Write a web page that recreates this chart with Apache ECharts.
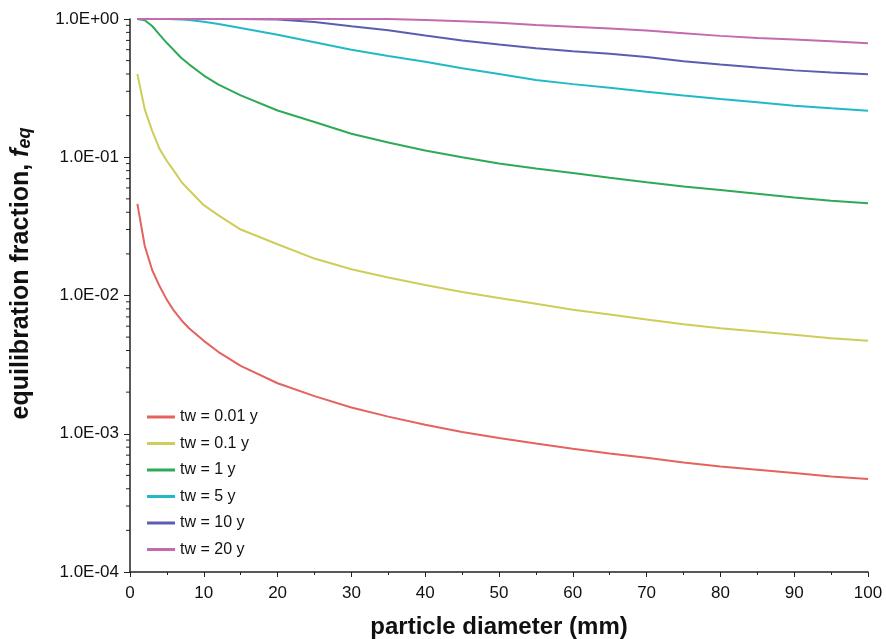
<!DOCTYPE html>
<html>
<head>
<meta charset="utf-8">
<script src="https://cdn.jsdelivr.net/npm/echarts@6/dist/echarts.min.js"></script>
<style>html,body{margin:0;padding:0;background:#fff;}#c{width:886px;height:639px;}</style>
</head>
<body>
<div id="c"></div>
<script>
// particle diameter (mm)
var diam = [1,2,3,4,5,6,7,8,10,12,15,20,25,30,35,40,45,50,55,60,65,70,75,80,85,90,95,100];
var tw001 = [0.046,0.0228,0.0153,0.0117,0.0093,0.0077,0.0066,0.0058,0.0047,0.0039,0.0031,0.00232,0.00187,0.00155,0.00133,0.00116,0.00103,0.00093,0.00085,0.00078,0.00072,0.00067,0.00062,0.00058,0.00055,0.00052,0.00049,0.00047];
var tw01 = [0.40,0.222,0.155,0.115,0.094,0.079,0.066,0.058,0.045,0.038,0.030,0.0235,0.0185,0.0155,0.0135,0.0119,0.0106,0.0096,0.0087,0.0079,0.0073,0.0067,0.0062,0.0058,0.0055,0.0052,0.0049,0.0047];
var tw1 = [1.0,0.98,0.89,0.77,0.67,0.59,0.52,0.47,0.39,0.335,0.28,0.218,0.18,0.148,0.128,0.112,0.1,0.09,0.083,0.077,0.071,0.066,0.0615,0.058,0.0545,0.0512,0.0485,0.0464];
var tw5 = [1,1,1,1,0.998,0.995,0.99,0.983,0.955,0.92,0.86,0.77,0.68,0.60,0.54,0.49,0.44,0.40,0.362,0.338,0.318,0.298,0.28,0.264,0.25,0.236,0.226,0.217];
var tw10 = [1,1,1,1,1,1,1,1,1,1,1,0.99,0.95,0.885,0.83,0.76,0.70,0.655,0.615,0.585,0.56,0.53,0.495,0.468,0.445,0.425,0.41,0.399];
var tw20 = [1,1,1,1,1,1,1,1,1,1,1,1,1,1,1,0.985,0.965,0.94,0.905,0.88,0.855,0.825,0.79,0.755,0.73,0.71,0.69,0.667];

var seriesNames = ['tw = 0.01 y','tw = 0.1 y','tw = 1 y','tw = 5 y','tw = 10 y','tw = 20 y'];
var seriesVals = [tw001, tw01, tw1, tw5, tw10, tw20];
var colors = ['#e5625f','#cfcd5a','#2eaa57','#22b9c6','#5b5eb0','#c46bb0'];

// y minor tick values (2..9 x 10^k)
var yMinor = [];
for (var k = -4; k < 0; k++) { for (var m = 2; m <= 9; m++) { yMinor.push([0, m * Math.pow(10, k)]); } }

var FONT = 'Liberation Sans, Arial, sans-serif';
var series = seriesNames.map(function (n, i) {
  return {
    name: n, type: 'line', symbol: 'none', smooth: false,
    data: diam.map(function (d, j) { return [d, seriesVals[i][j]]; }),
    lineStyle: { color: colors[i], width: 2 }, itemStyle: { color: colors[i] }
  };
});
series.push({
  type: 'custom', name: 'minor', silent: true, clip: false, z: 5,
  data: yMinor,
  renderItem: function (params, api) {
    var p = api.coord([0, api.value(1)]);
    return { type: 'line', shape: { x1: p[0] - 4, y1: p[1], x2: p[0], y2: p[1] }, style: { stroke: '#222', lineWidth: 1 } };
  }
});

var chart = echarts.init(document.getElementById('c'), null, { renderer: 'canvas' });
chart.setOption({
  animation: false,
  color: colors,
  textStyle: { fontFamily: FONT },
  grid: { left: 130, right: 18, top: 19, bottom: 67, containLabel: false, outerBoundsMode: 'none' },
  legend: {
    data: seriesNames.map(function (n) { return { name: n, icon: 'rect' }; }),
    orient: 'vertical', left: 142, top: 404,
    itemWidth: 28, itemHeight: 3, itemGap: 10.5,
    textStyle: { fontSize: 16, lineHeight: 16, color: '#111', fontFamily: FONT }
  },
  xAxis: {
    type: 'value', min: 0, max: 100, interval: 10,
    name: 'particle diameter (mm)', nameLocation: 'middle', nameGap: 43,
    nameTextStyle: { fontSize: 24, fontWeight: 'bold', color: '#111', fontFamily: FONT },
    axisLine: { onZero: false, lineStyle: { color: '#222', width: 1.5 } },
    axisTick: { length: 5, lineStyle: { color: '#222' } },
    minorTick: { show: true, splitNumber: 2, length: 3, lineStyle: { color: '#222' } },
    axisLabel: { fontSize: 17, color: '#111', margin: 13, fontFamily: FONT },
    splitLine: { show: false }
  },
  yAxis: {
    type: 'log', logBase: 10, min: 0.0001, max: 1,
    name: 'equilibration fraction, {i|f}{s|eq}', nameLocation: 'middle', nameGap: 96, nameRotate: 90,
    nameTextStyle: {
      fontSize: 25, fontWeight: 'bold', color: '#111', fontFamily: FONT, padding: [0, 0, 0, 44],
      rich: {
        i: { fontSize: 25, fontWeight: 'bold', fontStyle: 'italic', color: '#111', fontFamily: FONT },
        s: { fontSize: 18, fontWeight: 'bold', fontStyle: 'italic', color: '#111', fontFamily: FONT, verticalAlign: 'bottom', padding: [8, 0, 0, 0] }
      }
    },
    axisLine: { show: true, lineStyle: { color: '#222', width: 1.5 } },
    axisTick: { length: 6, lineStyle: { color: '#222' } },
    axisLabel: {
      fontSize: 17, color: '#111', margin: 11, fontFamily: FONT,
      formatter: function (v) {
        var e = Math.round(Math.log10(v)); var s = e < 0 ? '-' : '+'; var a = Math.abs(e);
        return '1.0E' + s + (a < 10 ? '0' : '') + a;
      }
    },
    splitLine: { show: false }
  },
  series: series
});
</script>
</body>
</html>
